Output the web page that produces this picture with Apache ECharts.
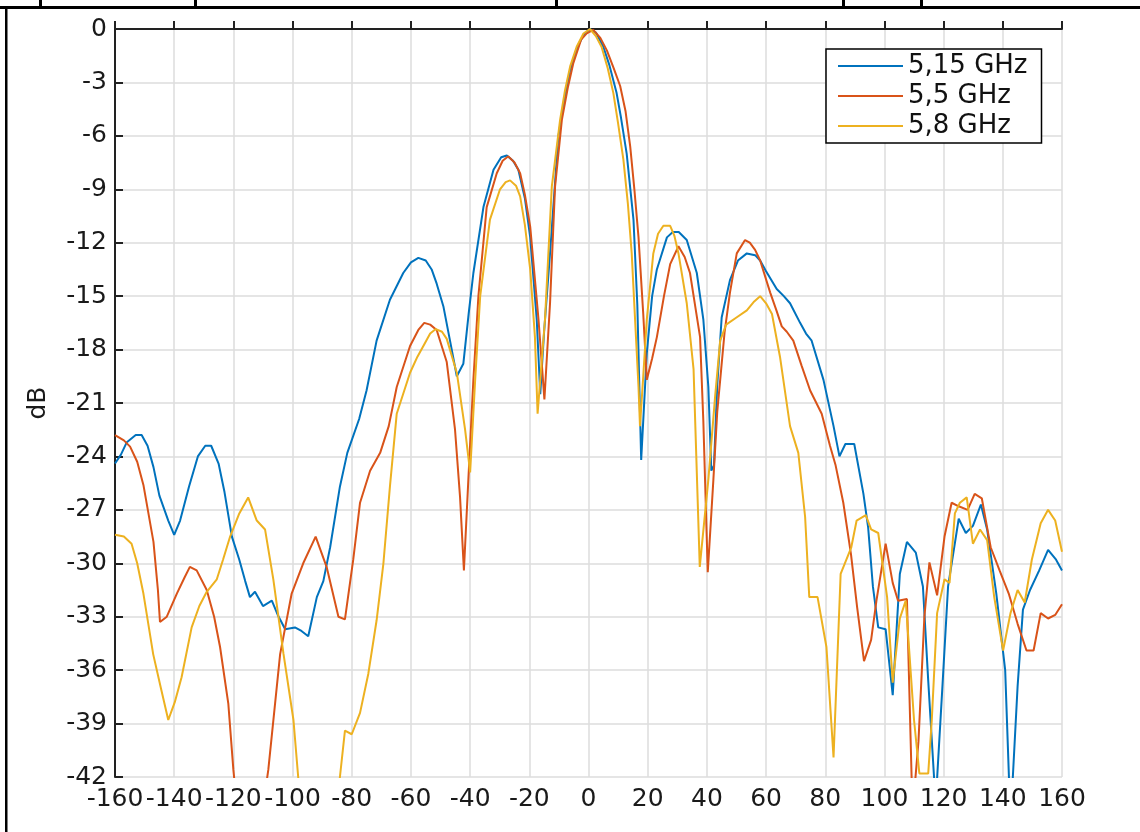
<!DOCTYPE html>
<html>
<head>
<meta charset="utf-8">
<script src="https://cdn.jsdelivr.net/npm/echarts@6/dist/echarts.min.js"></script>
<style>
  html, body { margin: 0; background: #fff; }
  #chart { width: 1140px; height: 832px; }
</style>
</head>
<body>
<div id="chart"></div>
<script>
// 方向图数据：角度（度）与归一化增益（dB）
const seriesNames = ["5,15 GHz", "5,5 GHz", "5,8 GHz"]
const xTicks = [-160, 160, 20]
const yTicks = [-42, 0, 3]

const angles515 = [-160,-158,-156,-153,-151,-149,-147,-145,-142,-140,
  -138,-135,-132,-129.5,-127.5,-125,-123,-120.5,-118,-116,
  -114.4,-112.7,-110,-107,-105,-102.5,-99.2,-97,-94.7,-91.8,
  -89.6,-87.3,-84,-81.5,-77.5,-75,-71.6,-67.1,-62.6,-60,
  -57.5,-55,-53,-51.3,-49,-46.8,-44.5,-42.3,-40.5,-38.9,
  -35.5,-32.1,-29.5,-27.6,-25.5,-23.7,-21.5,-19.7,-17.5,-16.3,
  -15,-13,-10.2,-8,-6.2,-4,-1.7,0.5,2.5,5,
  7,9.5,11,12.9,15.2,16.5,17.8,19.7,21.5,23.1,
  26.5,28.5,30.5,33.2,36.6,38.8,40.5,41.5,42.4,43.5,
  45,47.8,50.5,53.5,56.3,58,60,63.6,66,68.1,
  71.5,73.5,75.4,79.4,82.8,84.8,86.8,89.8,92.9,94.5,
  96.1,97.9,100.4,102.8,105.2,107.6,110.6,113,114.8,117.3,
  119.6,121.5,123.3,125.1,127.5,129.9,132.6,134.7,137.8,140.8,
  142.6,145,146.8,149.2,152.3,155.3,158,160]
const db515 = [-24.4,-23.9,-23.2,-22.8,-22.8,-23.4,-24.6,-26.2,-27.6,-28.4,
  -27.6,-25.7,-24.0,-23.4,-23.4,-24.4,-26.0,-28.5,-29.8,-31.0,
  -31.9,-31.6,-32.4,-32.1,-32.9,-33.7,-33.6,-33.8,-34.1,-31.9,
  -31.0,-29.1,-25.7,-23.8,-21.9,-20.3,-17.5,-15.2,-13.7,-13.1,
  -12.85,-13.0,-13.5,-14.3,-15.6,-17.5,-19.5,-18.8,-16.0,-13.7,
  -10.0,-7.9,-7.2,-7.1,-7.4,-7.9,-9.5,-11.7,-16.3,-20.5,
  -17,-12.6,-6.05,-3.8,-2.3,-1.1,-0.34,0,-0.2,-1.0,
  -2.0,-3.6,-5.0,-7.0,-10.7,-15.5,-24.2,-18.2,-15.0,-13.5,
  -11.7,-11.4,-11.4,-11.85,-13.7,-16.3,-20.1,-24.8,-24.5,-20,
  -16.2,-14.1,-13.0,-12.6,-12.7,-13.0,-13.6,-14.6,-15.0,-15.4,
  -16.5,-17.1,-17.5,-19.7,-22.3,-24.0,-23.3,-23.3,-26.1,-28.0,
  -31.3,-33.6,-33.7,-37.4,-30.6,-28.8,-29.4,-31.3,-36.6,-43.5,
  -36.9,-31.3,-29.4,-27.5,-28.3,-27.9,-26.7,-28.1,-31.7,-36.0,
  -44.5,-36.9,-32.6,-31.5,-30.4,-29.25,-29.8,-30.4]

const angles55 = [-160,-157,-154.9,-152.5,-150.4,-147,-145.5,-144.8,-142.5,-139.1,
  -136.5,-134.7,-132.4,-129,-126.5,-124.5,-121.7,-120,-118,-112,
  -108.2,-104.2,-100.3,-96.4,-92.2,-88.5,-84.5,-82.3,-79.5,-77.2,
  -73.8,-70.4,-67.5,-64.8,-60.3,-57.5,-55.5,-53.5,-51.3,-47.9,
  -45.1,-43.4,-42.1,-40.6,-38.9,-37.2,-34.4,-31,-29,-27.1,
  -25,-23.1,-21.5,-19.7,-16.9,-14.9,-13,-11.3,-9,-7,
  -5.1,-2.5,-0.6,1.6,4,6.2,8.5,10.7,12.5,14.1,
  15.5,16.9,18.5,19.7,21.5,23.1,25.5,27.6,30.4,32.5,
  34.3,36,37.7,38.8,40.3,42.2,43.5,44.5,46,47.8,
  50.1,52.9,54.5,56.3,58,61.4,63.5,65.3,67,69.2,
  72,74.9,78.8,81.6,83.5,86.1,88.7,90.8,93.1,95.5,
  97.3,100.4,102.8,104.6,107.6,109.5,111.5,113.5,115.2,117.8,
  120.3,122.7,125.1,128.1,130.5,132.9,135.9,138.9,142,145,
  148,150.4,152.8,155.3,157.7,160]
const db55 = [-22.8,-23.1,-23.45,-24.3,-25.6,-28.8,-31.5,-33.3,-33.0,-31.7,
  -30.8,-30.2,-30.4,-31.5,-33.0,-34.7,-37.9,-41.6,-45,-46,
  -41.6,-35.1,-31.7,-30.0,-28.5,-30.2,-33.0,-33.15,-29.8,-26.6,
  -24.8,-23.8,-22.3,-20.1,-17.8,-16.9,-16.5,-16.6,-16.9,-18.7,
  -22.5,-26.3,-30.4,-25.3,-19.7,-15.0,-10.0,-8.1,-7.4,-7.15,
  -7.5,-8.1,-9.3,-11.1,-16.3,-20.8,-15.4,-8.85,-5.1,-3.3,
  -1.9,-0.6,-0.25,-0.05,-0.5,-1.2,-2.2,-3.2,-4.6,-6.6,
  -9,-11.7,-16,-19.7,-18.5,-17.3,-15.0,-13.2,-12.2,-12.8,
  -13.7,-15.5,-17.3,-22,-30.5,-25.3,-21.5,-19.7,-17,-14.8,
  -12.6,-11.85,-12.0,-12.4,-13.0,-14.8,-15.8,-16.7,-17.0,-17.5,
  -18.9,-20.3,-21.6,-23.4,-24.5,-26.6,-29.5,-32.5,-35.5,-34.3,
  -32.1,-28.9,-31.1,-32.1,-32.0,-44,-40,-33,-29.95,-31.8,
  -28.5,-26.6,-26.8,-27.0,-26.1,-26.35,-29.1,-30.4,-31.7,-33.4,
  -34.9,-34.9,-32.8,-33.1,-32.9,-32.3]

const angles58 = [-160,-157,-154.4,-152.5,-150.4,-147.1,-144.5,-142,-139.8,-137.5,
  -134.1,-131.5,-129,-125.6,-123.5,-121.1,-118,-115,-112.1,-109.3,
  -106.5,-103.1,-99.7,-98.1,-96,-86,-84,-82.3,-80,-77.2,
  -74.4,-71.6,-69.3,-67.1,-64.8,-60.3,-57.8,-55.8,-53.5,-51.6,
  -49.5,-47.9,-44.5,-41.7,-40,-38.3,-36.6,-33.3,-29.9,-28,
  -26.5,-24.5,-23.1,-21.5,-19.7,-18.1,-17.2,-14.7,-12.4,-9.6,
  -8,-6.2,-4,-1.7,0.5,2.5,4.4,6.5,8.4,10,
  11.8,13.3,14.6,16.9,17.4,18.5,19.7,21.9,23.5,25.3,
  27.6,29,30.4,33.2,35.5,37.6,40.5,42.8,44.5,46.5,
  50,53.5,56,58,60,62,64.7,68.1,70.9,73.2,
  74.6,77.4,80.4,82.8,85.2,88.8,90.6,93.7,95.5,97.9,
  100.9,102.8,105.2,107.2,110,111.8,114.8,116,117.8,120.3,
  122,123.8,125.5,127.8,129.9,132.3,134.7,137.1,140.1,142.6,
  145,147.4,149.8,152.8,155.3,157.7,160]
const db58 = [-28.4,-28.5,-28.9,-30.0,-31.7,-35.1,-37.0,-38.8,-37.8,-36.4,
  -33.6,-32.4,-31.6,-30.9,-29.8,-28.5,-27.2,-26.3,-27.6,-28.1,
  -30.9,-35.05,-38.8,-42,-46,-46,-42,-39.4,-39.6,-38.4,
  -36.2,-33.2,-30.0,-25.7,-21.6,-19.3,-18.4,-17.8,-17.1,-16.85,
  -17.0,-17.4,-19.3,-22.5,-24.9,-19.7,-15.0,-10.7,-9.0,-8.6,
  -8.5,-8.8,-9.4,-11,-13.5,-17.3,-21.6,-16.3,-8.85,-5.1,
  -3.5,-2.1,-1.0,-0.25,0,-0.4,-1.0,-2.2,-3.6,-5.3,
  -7.35,-9.8,-12.6,-20.1,-22.3,-19.5,-16.3,-12.6,-11.5,-11.05,
  -11.05,-11.6,-12.6,-15.4,-19.1,-30.2,-25.3,-20.6,-17.5,-16.6,
  -16.2,-15.8,-15.3,-15.0,-15.4,-16.0,-18.4,-22.3,-23.8,-27.4,
  -31.9,-31.9,-34.7,-40.9,-30.6,-29.1,-27.6,-27.3,-28.1,-28.3,
  -31.9,-36.7,-33.1,-32.1,-38.8,-41.8,-41.8,-38.8,-32.8,-30.9,
  -31.1,-27.2,-26.6,-26.3,-28.9,-28.1,-28.7,-31.9,-34.9,-32.8,
  -31.5,-32.2,-29.8,-27.75,-27.0,-27.6,-29.35]

const colors = ["#0072BD", "#D95319", "#EDB120"]
const pairs = (xs, ys) => xs.map((x, i) => [x, ys[i]])
const seriesData = [pairs(angles515, db515), pairs(angles55, db55), pairs(angles58, db58)]

const font = "DejaVu Sans"
const chart = echarts.init(document.getElementById("chart"))
const option = {
  backgroundColor: "#fff",
  animation: false,
  textStyle: { fontFamily: font },
  grid: { left: 115, right: 78, top: 29, bottom: 55 },
  legend: {
    orient: "vertical",
    left: 826,
    top: 49,
    icon: "rect",
    itemWidth: 65,
    itemHeight: 2,
    itemGap: 2,
    padding: [3, 14, 3, 12],
    borderColor: "#000",
    borderWidth: 1.5,
    borderRadius: 0,
    backgroundColor: "#fff",
    textStyle: { fontFamily: font, fontSize: 26, color: "#111", lineHeight: 28 },
    data: seriesNames,
  },
  xAxis: {
    type: "value",
    min: xTicks[0],
    max: xTicks[1],
    interval: xTicks[2],
    axisLine: { lineStyle: { color: "#222", width: 2 } },
    axisTick: { inside: true, length: 8, lineStyle: { color: "#222", width: 2 } },
    axisLabel: { fontSize: 25, color: "#1a1a1a", margin: 10, hideOverlap: false },
    splitLine: { show: true, lineStyle: { color: "#dcdcdc", width: 1.5 } },
  },
  yAxis: {
    type: "value",
    min: yTicks[0],
    max: yTicks[1],
    interval: yTicks[2],
    name: "dB",
    nameLocation: "middle",
    nameRotate: 90,
    nameGap: 64,
    nameTextStyle: { fontSize: 25, color: "#1a1a1a", fontFamily: font },
    axisLine: { show: true, onZero: false, lineStyle: { color: "#222", width: 2 } },
    axisTick: { show: true, inside: true, length: 8, lineStyle: { color: "#222", width: 2 } },
    axisLabel: { fontSize: 25, color: "#1a1a1a", margin: 8 },
    splitLine: { show: true, lineStyle: { color: "#dcdcdc", width: 1.5 } },
  },
  series: seriesData.map((d, i) => ({
    name: seriesNames[i],
    type: "line",
    data: d,
    showSymbol: false,
    clip: true,
    color: colors[i],
    lineStyle: { width: 2, color: colors[i] },
  })),
  // 外框和上方被裁掉的文字残留
  graphic: [
    { type: "rect", shape: { x: 0, y: 6, width: 1140, height: 3 }, style: { fill: "#000" } },
    { type: "rect", shape: { x: 5, y: 6, width: 2.5, height: 826 }, style: { fill: "#000" } },
    { type: "rect", shape: { x: 39, y: 0, width: 3, height: 6 }, style: { fill: "#000" } },
    { type: "rect", shape: { x: 194, y: 0, width: 3, height: 6 }, style: { fill: "#000" } },
    { type: "rect", shape: { x: 555, y: 0, width: 3, height: 6 }, style: { fill: "#000" } },
    { type: "rect", shape: { x: 842, y: 0, width: 3, height: 6 }, style: { fill: "#000" } },
    { type: "rect", shape: { x: 920, y: 0, width: 3, height: 6 }, style: { fill: "#000" } },
  ],
}
chart.setOption(option)
</script>
</body>
</html>
